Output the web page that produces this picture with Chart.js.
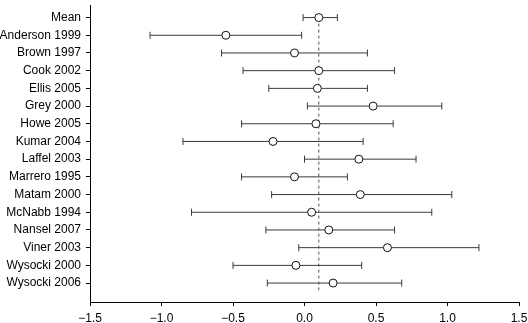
<!DOCTYPE html>
<html>
<head>
<meta charset="utf-8">
<script src="https://cdn.jsdelivr.net/npm/chart.js@4/dist/chart.umd.min.js"></script>
<style>
  html, body { margin: 0; padding: 0; background: #fff; }
  #wrap { width: 528px; height: 323px; }
</style>
</head>
<body>
<div id="wrap"><canvas id="forest"></canvas></div>
<script>
const studies = ['Mean', 'Anderson 1999', 'Brown 1997', 'Cook 2002', 'Ellis 2005', 'Grey 2000',
  'Howe 2005', 'Kumar 2004', 'Laffel 2003', 'Marrero 1995', 'Matam 2000', 'McNabb 1994',
  'Nansel 2007', 'Viner 2003', 'Wysocki 2000', 'Wysocki 2006'];
const effect = [0.10, -0.55, -0.07, 0.10, 0.09, 0.48, 0.08, -0.22, 0.38, -0.07, 0.39, 0.05, 0.17, 0.58, -0.06, 0.20];
const lower  = [-0.01, -1.08, -0.58, -0.43, -0.25, 0.02, -0.44, -0.85, 0.00, -0.44, -0.23, -0.79, -0.27, -0.04, -0.50, -0.26];
const upper  = [0.23, -0.02, 0.44, 0.63, 0.44, 0.96, 0.62, 0.41, 0.78, 0.30, 1.03, 0.89, 0.63, 1.22, 0.40, 0.68];
const xTicks = [-1.5, -1.0, -0.5, 0.0, 0.5, 1.0, 1.5];
const meanRef = effect[0];

const FONT = { family: '"Liberation Sans", Arial, sans-serif', size: 12 };
const fmt = v => (v < 0 ? '\u2212' : '') + Math.abs(v).toFixed(1);

// whisker per study, caps drawn as rotated line points
const whiskers = studies.map((s, i) => ({
  type: 'line',
  data: [{ x: lower[i], y: i + 1 }, { x: upper[i], y: i + 1 }],
  borderColor: '#3a3a3a',
  borderWidth: 1,
  pointStyle: 'line',
  rotation: 90,
  pointRadius: 3.5,
  pointBorderColor: '#3a3a3a',
  pointBorderWidth: 1,
  order: 2
}));

new Chart(document.getElementById('forest'), {
  type: 'scatter',
  data: {
    datasets: [
      {
        type: 'scatter',
        data: effect.map((v, i) => ({ x: v, y: i + 1 })),
        pointRadius: 4,
        pointBackgroundColor: '#fff',
        pointBorderColor: '#111',
        pointBorderWidth: 1,
        order: 0
      },
      {
        // dashed reference line at the pooled mean
        type: 'line',
        data: [{ x: meanRef, y: 1 }, { x: meanRef, y: 16.4 }],
        borderColor: '#555',
        borderWidth: 1,
        borderDash: [3, 3],
        pointRadius: 0,
        order: 3
      },
      ...whiskers
    ]
  },
  options: {
    responsive: true,
    maintainAspectRatio: false,
    animation: false,
    devicePixelRatio: 1,
    layout: { padding: { left: 0, right: 9, top: 0, bottom: 0 } },
    plugins: { legend: { display: false }, tooltip: { enabled: false } },
    scales: {
      x: {
        type: 'linear',
        min: -1.5,
        max: 1.5,
        afterBuildTicks: s => { s.ticks = xTicks.map(v => ({ value: v })); },
        afterFit: s => { s.height = 21; s.paddingLeft = 0; s.paddingRight = 0; },
        ticks: { color: '#000', font: FONT, padding: 5, callback: v => fmt(v), maxRotation: 0 },
        grid: { drawOnChartArea: false, drawTicks: true, tickLength: 4, color: '#000' },
        border: { display: true, color: '#000', width: 1 }
      },
      y: {
        type: 'linear',
        min: 0.29,
        max: 17.07,
        reverse: true,
        afterBuildTicks: s => { s.ticks = studies.map((_, i) => ({ value: i + 1 })); },
        afterFit: s => { s.width = 90; s.paddingTop = 0; s.paddingBottom = 0; },
        ticks: { color: '#000', font: FONT, padding: 5, autoSkip: false, callback: v => studies[v - 1] || '' },
        grid: { drawOnChartArea: false, drawTicks: true, tickLength: 4, color: '#000' },
        border: { display: true, color: '#000', width: 1 }
      }
    }
  }
});
</script>
</body>
</html>
